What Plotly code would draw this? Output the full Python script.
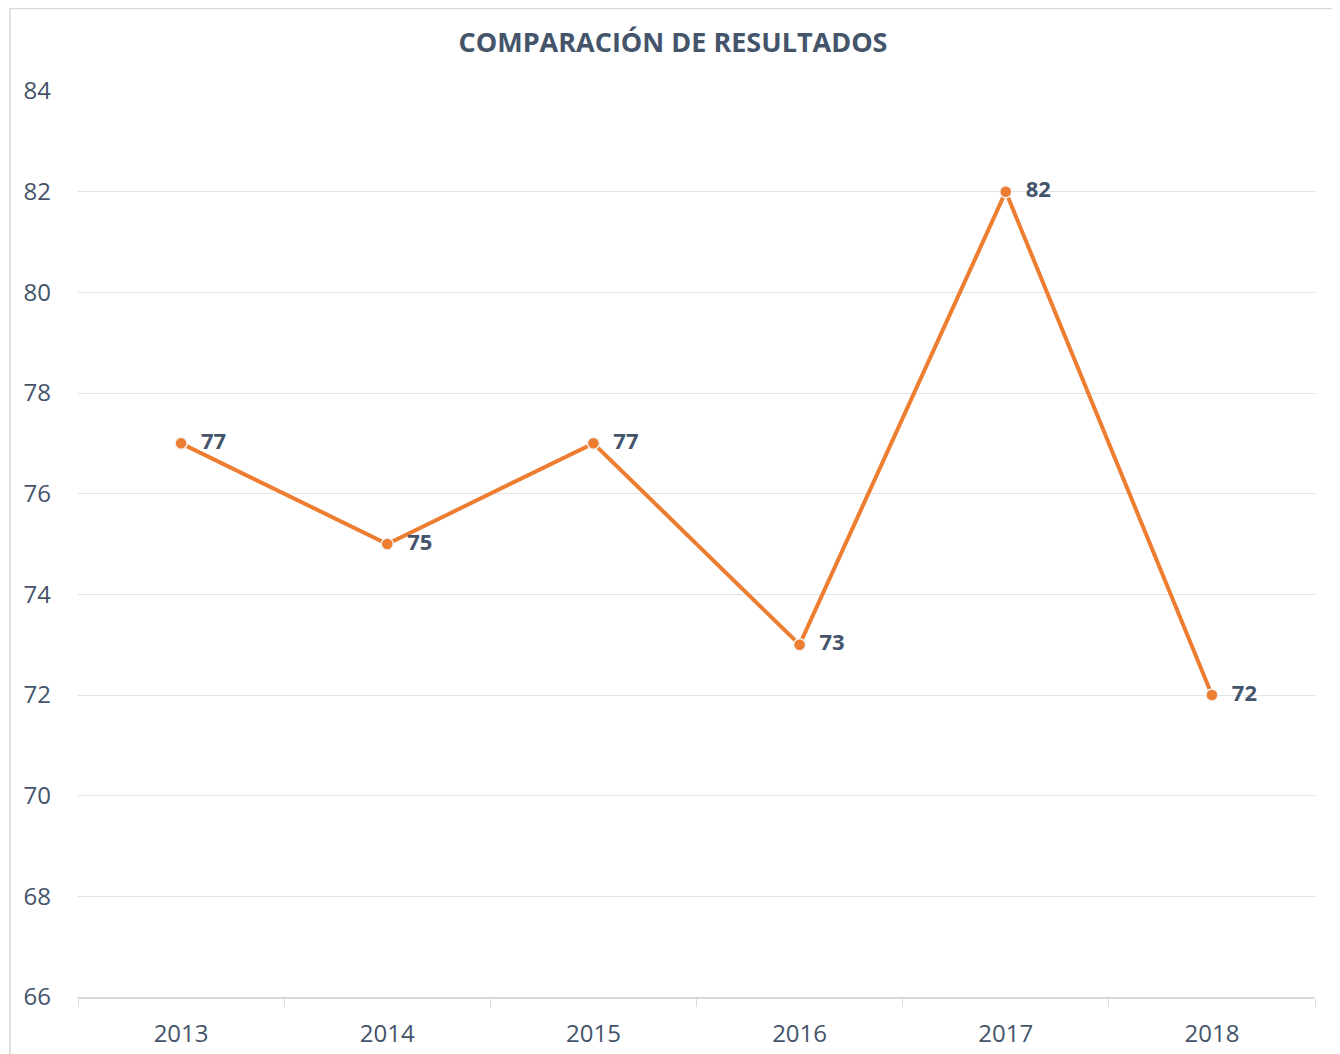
import plotly.graph_objects as go

years = ["2013", "2014", "2015", "2016", "2017", "2018"]
values = [77, 75, 77, 73, 82, 72]
y_ticks = [66, 68, 70, 72, 74, 76, 78, 80, 82, 84]

# figure is drawn 8px in from the page's top-left corner
OFF = 8
W, H = 1340 - OFF, 1054
ml, mr, mt = 78 - OFF, 25, 91 - OFF
mb = H - (997 - OFF)
pw = W - ml - mr
ph = H - mt - mb

fig = go.Figure()
fig.add_trace(go.Scatter(
    x=years, y=values, mode="lines+markers+text",
    line=dict(color="#ED7D31", width=4),
    marker=dict(size=12, color="#ED7D31", line=dict(color="#F2F2F2", width=1.5)),
    text=["  " + str(v) for v in values], textposition="middle right",
    textfont=dict(family="Open Sans", size=22, color="#44546A", weight="bold"),
    cliponaxis=False,
))

def px_x(p):
    return (p - OFF - ml) / pw

def px_y(p):
    return (H - mb - (p - OFF)) / ph

fig.add_shape(type="rect", xref="paper", yref="paper",
              x0=px_x(10), x1=px_x(1337), y0=px_y(1100), y1=px_y(8.5),
              line=dict(color="#D9D9D9", width=1.5), fillcolor="rgba(0,0,0,0)", layer="below")

fig.update_layout(
    width=W, height=H,
    margin=dict(l=ml, r=mr, t=mt, b=mb),
    paper_bgcolor="white", plot_bgcolor="white",
    showlegend=False,
    title=dict(text="<b>COMPARACIÓN DE RESULTADOS</b>", x=px_x(673), xanchor="center",
               xref="paper",
               y=1 - (43 - OFF) / H, yanchor="middle",
               font=dict(family="Open Sans", size=27, color="#44546A")),
    xaxis=dict(type="category", range=[-0.5, 5.5], showgrid=False,
               showline=True, linecolor="#D9D9D9", linewidth=1.5,
               ticks="outside", tickson="boundaries", ticklen=8, tickcolor="#D9D9D9",
               ticklabelstandoff=14,
               tickfont=dict(family="Open Sans", size=24, color="#44546A")),
    yaxis=dict(range=[66, 84], tickvals=y_ticks, showgrid=True, gridcolor="#E3E3E3",
               gridwidth=1, zeroline=False, showline=False, ticks="", ticklen=0,
               ticklabelstandoff=26,
               tickfont=dict(family="Open Sans", size=24, color="#44546A")),
)

fig.write_html("out.html")
